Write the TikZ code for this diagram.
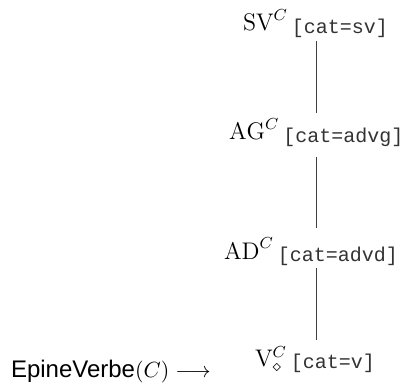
\documentclass[tikz,border=0pt]{standalone}
\usepackage{amsmath}
\usepackage{fontspec}
\setsansfont{Liberation Sans}
\setmonofont{Liberation Mono}
\tikzset{
  lbl/.style={anchor=base west, inner sep=0pt, outer sep=0pt, font=\fontsize{12}{14}\selectfont},
  spine/.style={line width=0.5pt, draw=black!75}
}
\newcommand{\ftr}[1]{\raisebox{-1.2pt}{\fontsize{10}{12}\ttfamily\color{black!80}#1}}
\begin{document}
\begin{tikzpicture}[x=0.5pt,y=-0.5pt]
\useasboundingbox (0,0) rectangle (402,385);
\node[lbl] (sv) at (243,31) {$\mathrm{SV}^{C}$\,\ftr{[cat=sv]}};
\node[lbl] (ag) at (229,140) {$\mathrm{AG}^{C}$\,\ftr{[cat=advg]}};
\node[lbl] (ad) at (224,259) {$\mathrm{AD}^{C}$\,\ftr{[cat=advd]}};
\node[lbl] (v) at (255,366) {$\mathrm{V}^{C}_{\diamond}$\,\ftr{[cat=v]}};
\node[lbl] (ep) at (11,377) {\sffamily EpineVerbe\fontsize{10.5}{12}\selectfont\rmfamily$(C)\longrightarrow$};
\coordinate (a1) at (316,41);  \coordinate (b1) at (316,113);
\coordinate (a2) at (316,157); \coordinate (b2) at (316,228);
\coordinate (a3) at (316,268); \coordinate (b3) at (316,340);
\draw[spine] (a1) -- (b1);
\draw[spine] (a2) -- (b2);
\draw[spine] (a3) -- (b3);
\end{tikzpicture}
\end{document}
